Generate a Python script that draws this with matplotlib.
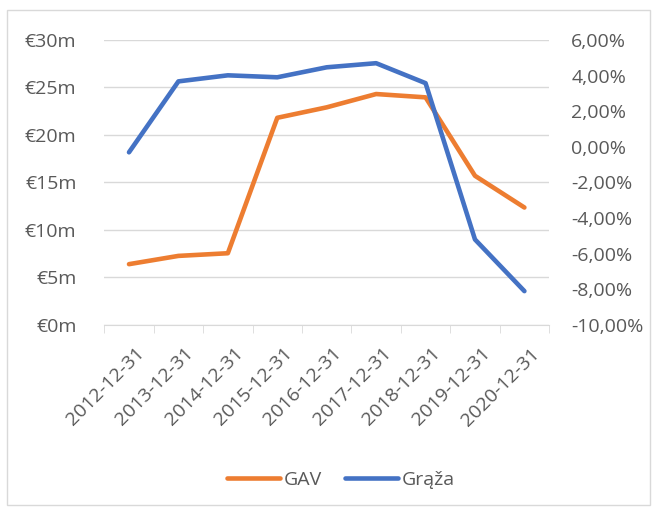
import matplotlib
matplotlib.use("Agg")
import matplotlib.pyplot as plt
from matplotlib.patches import Rectangle
from matplotlib.ticker import FuncFormatter, FixedLocator
from matplotlib.transforms import ScaledTranslation
import numpy as np

plt.rcParams['font.family'] = ['Open Sans', 'DejaVu Sans']

categories = ["2012-12-31", "2013-12-31", "2014-12-31", "2015-12-31", "2016-12-31",
              "2017-12-31", "2018-12-31", "2019-12-31", "2020-12-31"]
gav = [6.4, 7.27, 7.55, 21.8, 22.9, 24.3, 23.95, 15.7, 12.36]          # € millions
graza = [-0.31, 3.67, 4.01, 3.90, 4.46, 4.69, 3.57, -5.2, -8.1]         # %
left_ticks = [0, 5, 10, 15, 20, 25, 30]
right_ticks = [-10, -8, -6, -4, -2, 0, 2, 4, 6]

txt = '#595959'
grid = '#d9d9d9'
orange = '#ED7D31'
blue = '#4472C4'
fs = 14

fig = plt.figure(figsize=(6.6, 5.11), dpi=100)
fig.patches.append(Rectangle((7/660, 1-505/511), 643/660, 495/511, transform=fig.transFigure,
                             fill=False, edgecolor='#d9d9d9', lw=1))
ax = fig.add_axes([0.158, 0.364, 0.674, 0.558])
x = np.arange(len(categories))
ax.plot(x, gav, color=orange, lw=3.3, solid_capstyle='round', zorder=3, label='GAV')
ax.set_ylim(0, 30)
ax.set_xlim(-0.5, len(categories) - 0.5)
ax.set_yticks(left_ticks)
ax.yaxis.set_major_formatter(FuncFormatter(lambda v, p: f"€{int(v)}m"))
ax.grid(axis='y', color=grid, lw=1)
ax.set_axisbelow(True)
for s in ['top', 'left', 'right']:
    ax.spines[s].set_visible(False)
ax.spines['bottom'].set_color(grid)
ax.tick_params(axis='y', length=0, pad=20, labelsize=fs, labelcolor=txt)
ax.set_xticks(x)
ax.set_xticklabels(categories, rotation=45, ha='right', rotation_mode='anchor')
ax.xaxis.set_minor_locator(FixedLocator(np.arange(-0.5, len(categories), 1.0)))
ax.tick_params(axis='x', which='major', length=0, pad=14, labelsize=fs, labelcolor=txt)
ax.tick_params(axis='x', which='minor', length=6, color=grid)
shift = ScaledTranslation(6/100, 0, fig.dpi_scale_trans)
for lab in ax.get_xticklabels():
    lab.set_transform(lab.get_transform() + shift)

ax2 = ax.twinx()
ax2.plot(x, graza, color=blue, lw=3.3, solid_capstyle='round', zorder=3, label='Grąža')
ax2.set_ylim(-10, 6)
ax2.set_yticks(right_ticks)
ax2.yaxis.set_major_formatter(FuncFormatter(lambda v, p: f"{v:.2f}%".replace('.', ',')))
for s in ['top', 'left', 'right', 'bottom']:
    ax2.spines[s].set_visible(False)
ax2.tick_params(axis='y', length=0, pad=16, labelsize=fs, labelcolor=txt)

h1, l1 = ax.get_legend_handles_labels()
h2, l2 = ax2.get_legend_handles_labels()
fig.legend(h1 + h2, l1 + l2, loc='center', bbox_to_anchor=(341/660, 1 - 480/511), ncol=2,
           frameon=False, fontsize=fs, labelcolor=txt, handlelength=2.7, columnspacing=1.2,
           handletextpad=0.2)

fig.savefig('out.png', dpi=100)
